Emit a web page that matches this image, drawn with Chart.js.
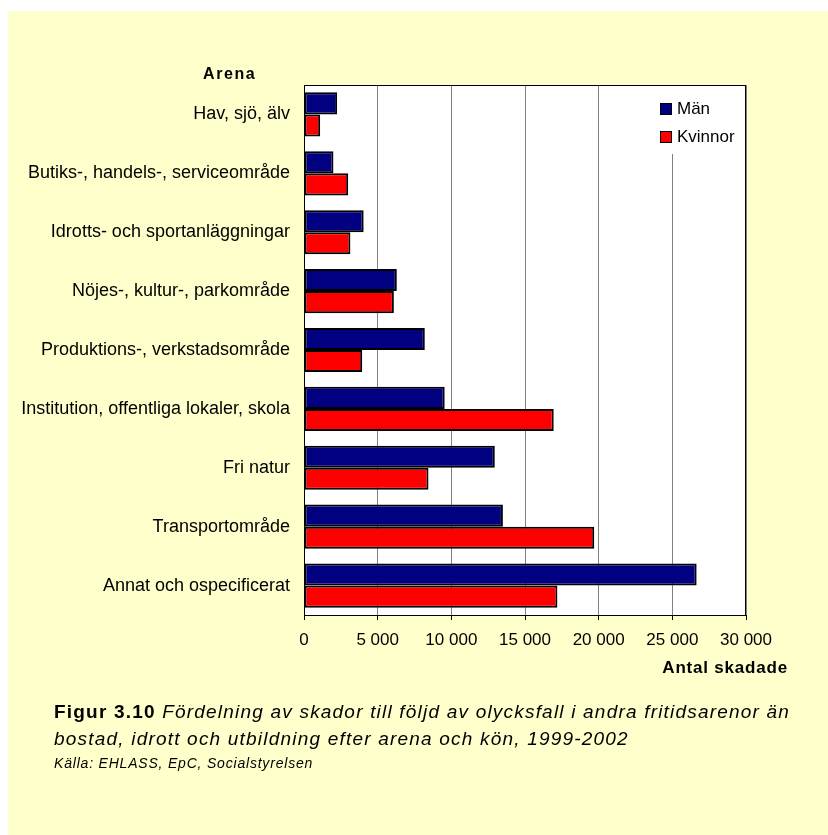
<!DOCTYPE html>
<html>
<head>
<meta charset="utf-8">
<script src="https://cdn.jsdelivr.net/npm/chart.js@4.4.1/dist/chart.umd.min.js"></script>
<style>
    body { margin: 0; background: #fff; font-family: "Liberation Sans", Arial, sans-serif; }
    #bg { position: absolute; left: 8px; top: 11px; right: 0; bottom: 0; background: #FFFFCC; }
    #chart { position: absolute; left: 0; top: 0; }
    .lbl { position: absolute; font-weight: bold; color: #000; white-space: nowrap; }
    #arena { left: 203px; top: 65px; font-size: 16px; letter-spacing: 1.6px; }
    #antal { right: 40px; top: 658px; font-size: 17px; letter-spacing: 0.8px; }
    #caption { position: absolute; left: 54px; top: 698px; font-size: 19px; line-height: 27px; letter-spacing: 1.2px; color: #000; white-space: nowrap; }
    #caption i { font-style: italic; }
    #kalla { position: absolute; left: 54px; top: 755px; font-size: 14px; letter-spacing: 0.8px; font-style: italic; color: #000; }
</style>
</head>
<body>
<div id="bg"></div>
<canvas id="chart" width="828" height="700"></canvas>
<div class="lbl" id="arena">Arena</div>
<div class="lbl" id="antal">Antal skadade</div>
<div id="caption"><b>Figur 3.10</b> <i>Fördelning av skador till följd av olycksfall i andra fritidsarenor än<br>bostad, idrott och utbildning efter arena och kön, 1999-2002</i></div>
<div id="kalla">Källa: EHLASS, EpC, Socialstyrelsen</div>

<script>
// kategorier och värden
const arenor = [
    'Hav, sjö, älv',
    'Butiks-, handels-, serviceområde',
    'Idrotts- och sportanläggningar',
    'Nöjes-, kultur-, parkområde',
    'Produktions-, verkstadsområde',
    'Institution, offentliga lokaler, skola',
    'Fri natur',
    'Transportområde',
    'Annat och ospecificerat'
];
const man = [2250, 2000, 4050, 6300, 8200, 9550, 12950, 13500, 26650];
const kvinnor = [1100, 3000, 3150, 6100, 3950, 16950, 8450, 19700, 17200];
const xTicks = [0, 5000, 10000, 15000, 20000, 25000, 30000];

function formatera(v) {
    return String(v).replace(/\B(?=(\d{3})+(?!\d))/g, ' ');
}

// vit bakgrund + ram runt ritytan, och legenden inne i diagrammet
const ritytan = {
    id: 'ritytan',
    beforeDraw(chart) {
        const a = chart.chartArea, c = chart.ctx;
        c.save();
        c.fillStyle = '#fff';
        c.fillRect(a.left, a.top, a.right - a.left, a.bottom - a.top);
        c.restore();
    },
    afterDatasetsDraw(chart) {
        const a = chart.chartArea, c = chart.ctx;
        c.save();
        c.fillStyle = '#fff';
        c.fillRect(650, a.top + 1, a.right - 651, 68);
        c.font = '17px "Liberation Sans", Arial, sans-serif';
        c.textBaseline = 'middle';
        chart.data.datasets.forEach((ds, i) => {
            const y = 109 + i * 28;
            c.fillStyle = ds.backgroundColor;
            c.fillRect(661, y - 5, 10, 10);
            c.strokeStyle = '#000';
            c.lineWidth = 1;
            c.strokeRect(660.5, y - 5.5, 11, 11);
            c.fillStyle = '#000';
            c.fillText(ds.label, 677, y);
        });
        c.strokeStyle = '#000';
        c.lineWidth = 1;
        c.strokeRect(a.left + 0.5, a.top + 0.5, a.right - a.left - 1, a.bottom - a.top);
        c.restore();
    }
};

new Chart(document.getElementById('chart'), {
    type: 'bar',
    data: {
        labels: arenor,
        datasets: [
            { label: 'Män', data: man, backgroundColor: '#000080' },
            { label: 'Kvinnor', data: kvinnor, backgroundColor: '#FF0000' }
        ]
    },
    options: {
        indexAxis: 'y',
        responsive: false,
        animation: false,
        layout: { padding: { left: 0, right: 82, top: 85, bottom: 45 } },
        datasets: {
            bar: {
                borderColor: '#000',
                borderWidth: 2,
                borderSkipped: false,
                categoryPercentage: 0.75,
                barPercentage: 1
            }
        },
        plugins: {
            legend: { display: false },
            tooltip: { enabled: false }
        },
        scales: {
            x: {
                min: 0,
                max: 30000,
                afterBuildTicks(scale) {
                    scale.ticks = xTicks.map(v => ({ value: v }));
                },
                afterFit(scale) { scale.height = 40; },
                grid: { color: '#808080', lineWidth: 1, tickLength: 5, tickColor: '#000' },
                border: { color: '#000' },
                ticks: {
                    color: '#000',
                    padding: 10,
                    maxRotation: 0,
                    font: { family: '"Liberation Sans", Arial, sans-serif', size: 17 },
                    callback: v => formatera(v)
                }
            },
            y: {
                afterFit(scale) { scale.width = 304; },
                grid: { display: false, drawTicks: false },
                border: { color: '#000', width: 1 },
                ticks: {
                    color: '#000',
                    padding: 14,
                    autoSkip: false,
                    font: { family: '"Liberation Sans", Arial, sans-serif', size: 18 }
                }
            }
        }
    },
    plugins: [ritytan]
});
</script>
</body>
</html>
